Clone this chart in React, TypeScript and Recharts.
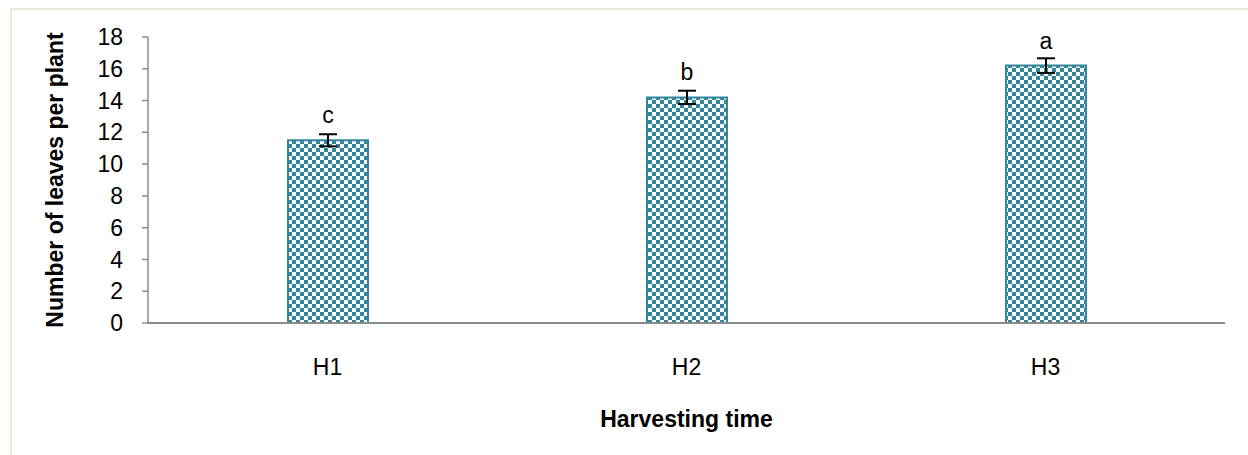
import { Bar, BarChart, ErrorBar, LabelList, XAxis, YAxis } from 'recharts'

const categories = ['H1', 'H2', 'H3']
const leaves = [11.5, 14.2, 16.2]
const errors = [0.38, 0.42, 0.46]
const letters = ['c', 'b', 'a']
const yTicks = [0, 2, 4, 6, 8, 10, 12, 14, 16, 18]

const data = categories.map((name, i) => ({
  name,
  leaves: leaves[i],
  err: errors[i],
  letter: letters[i],
}))

const font = 'Liberation Sans, Arial, sans-serif'
const teal = '#31859c'
const fs = 23

const LetterLabel = (props: any) => {
  const { x, y, width, value } = props
  return (
    <text
      x={x + width / 2}
      y={y - 17}
      textAnchor="middle"
      fontSize={fs}
      fontFamily={font}
      fill="#000"
    >
      {value}
    </text>
  )
}

export default function App() {
  return (
    <div style={{ position: 'absolute', left: 0, top: 0, width: 1248, height: 455, background: '#fff', overflow: 'hidden' }}>
      <div
        style={{
          position: 'absolute',
          left: 10,
          top: 8,
          width: 1260,
          height: 470,
          borderLeft: '2px solid #ece9dc',
          borderTop: '2px solid #ece9dc',
        }}
      />
      <div style={{ position: 'absolute', left: 0, top: 0 }}>
        <BarChart
          width={1248}
          height={455}
          data={data}
          margin={{ top: 37, right: 23, bottom: 0, left: 88 }}
        >
          <defs>
            <pattern id="checker" width="8" height="8" patternUnits="userSpaceOnUse">
              <rect width="8" height="8" fill="#fff" />
              <rect x="0" y="0" width="4" height="4" fill={teal} />
              <rect x="4" y="4" width="4" height="4" fill={teal} />
            </pattern>
          </defs>
          <XAxis
            dataKey="name"
            tickLine={false}
            axisLine={{ stroke: '#8c8c8c', strokeWidth: 2 }}
            tick={{ fontSize: fs, fontFamily: font, fill: '#000' }}
            tickMargin={30}
            label={{
              value: 'Harvesting time',
              position: 'insideBottom',
              offset: 28,
              style: { fontSize: fs, fontWeight: 'bold', fontFamily: font, fill: '#000' },
            }}
            height={132}
          />
          <YAxis
            width={60}
            domain={[0, 18]}
            ticks={yTicks}
            interval={0}
            tickSize={6}
            tickMargin={19}
            tickLine={{ stroke: '#8c8c8c', strokeWidth: 1.5 }}
            axisLine={{ stroke: '#8c8c8c', strokeWidth: 1.5 }}
            tick={{ fontSize: fs, fontFamily: font, fill: '#000' }}
          />
          <text
            x={55}
            y={180}
            transform="rotate(-90 55 180)"
            textAnchor="middle"
            dominantBaseline="central"
            fontSize={fs}
            fontWeight="bold"
            fontFamily={font}
            fill="#000"
          >
            Number of leaves per plant
          </text>
          <Bar
            dataKey="leaves"
            fill="url(#checker)"
            stroke={teal}
            strokeWidth={2}
            barSize={80}
            isAnimationActive={false}
          >
            <ErrorBar dataKey="err" width={9} stroke="#000" strokeWidth={2} />
            <LabelList dataKey="letter" content={LetterLabel} />
          </Bar>
        </BarChart>
      </div>
    </div>
  )
}
